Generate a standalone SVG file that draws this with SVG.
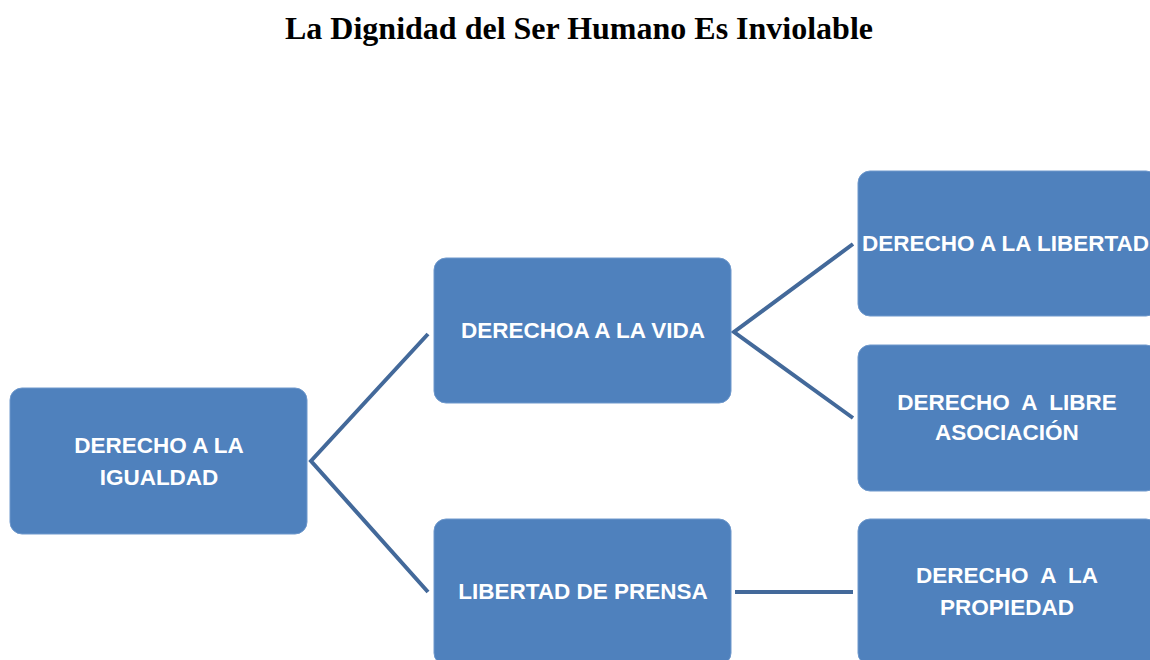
<svg xmlns="http://www.w3.org/2000/svg" width="1150" height="660" viewBox="0 0 1150 660">
<style>
.box{fill:#4f81bd;stroke:#6e98cc;stroke-width:1}
.lbl{font-family:"Liberation Sans",Arial,sans-serif;font-weight:bold;font-size:22.5px;fill:#ffffff;text-anchor:middle}
.title{font-family:"Liberation Serif","Times New Roman",serif;font-weight:bold;font-size:32px;fill:#000;text-anchor:middle}
.conn{stroke:#43699a;stroke-width:4;fill:none}
</style>
<rect width="1150" height="660" fill="#ffffff"/>
<text class="title" x="579" y="39">La Dignidad del Ser Humano Es Inviolable</text>
<g id="connectors">
<polyline class="conn" points="428,334 311,461 428,592"/>
<polyline class="conn" points="853,244 734,332 853,418"/>
<line class="conn" x1="735" y1="592" x2="853" y2="592"/>
</g>
<g id="igualdad">
<rect class="box" x="10" y="388" width="297" height="146" rx="12"/>
<text class="lbl" x="159" y="453">DERECHO A LA</text>
<text class="lbl" x="159" y="485">IGUALDAD</text>
</g>
<g id="vida">
<rect class="box" x="434" y="258" width="297" height="145" rx="12"/>
<text class="lbl" x="583" y="338">DERECHOA A LA VIDA</text>
</g>
<g id="prensa">
<rect class="box" x="434" y="519" width="297" height="146" rx="12"/>
<text class="lbl" x="583" y="599">LIBERTAD DE PRENSA</text>
</g>
<g id="libertad">
<rect class="box" x="858" y="171" width="300" height="145" rx="12"/>
<text class="lbl" x="862" y="251" style="text-anchor:start">DERECHO A LA LIBERTAD</text>
</g>
<g id="asociacion">
<rect class="box" x="858" y="345" width="300" height="146" rx="12"/>
<text class="lbl" x="1007" y="410" xml:space="preserve">DERECHO  A  LIBRE</text>
<text class="lbl" x="1007" y="440">ASOCIACIÓN</text>
</g>
<g id="propiedad">
<rect class="box" x="858" y="519" width="300" height="146" rx="12"/>
<text class="lbl" x="1007" y="583" xml:space="preserve">DERECHO  A  LA</text>
<text class="lbl" x="1007" y="615">PROPIEDAD</text>
</g>
</svg>
